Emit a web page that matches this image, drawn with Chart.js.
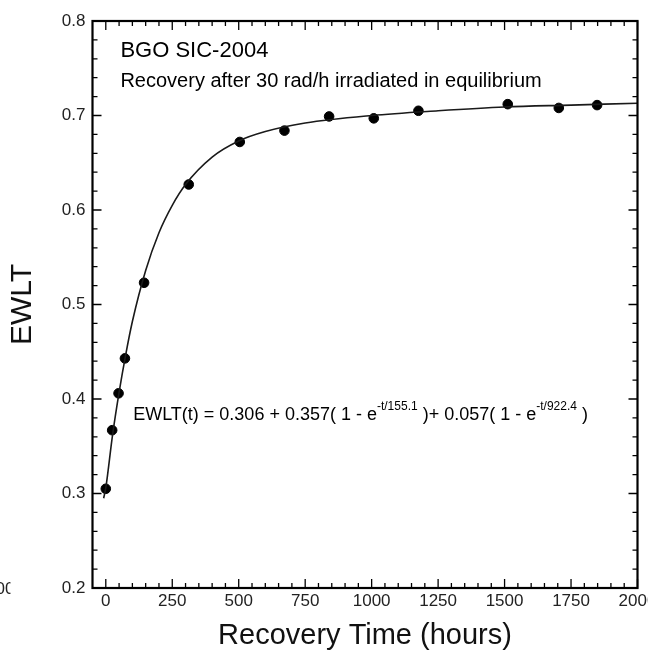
<!DOCTYPE html>
<html>
<head>
<meta charset="utf-8">
<script src="https://cdn.jsdelivr.net/npm/chart.js@4/dist/chart.umd.min.js"></script>
<style>
  html, body { margin: 0; padding: 0; background: #fff; overflow: hidden; }
  #wrap { width: 648px; height: 651px; overflow: hidden; position: relative; }
  canvas { display: block; }
</style>
</head>
<body>
<div id="wrap"><canvas id="ewltChart" width="680" height="651"></canvas></div>
<script>
// measured points: recovery time (hours) and EWLT
const pointTimes = [0, 24, 48, 72, 144, 312, 504, 672, 840, 1008, 1176, 1512, 1704, 1848];
const pointEwlt = [0.305, 0.367, 0.406, 0.443, 0.523, 0.627, 0.672, 0.684, 0.699, 0.697, 0.705, 0.712, 0.708, 0.711];

// fitted curve
const curveTimes = [-8, 0, 25, 50, 75, 100, 150, 200, 250, 300, 400, 500, 600, 750, 1000, 1250, 1500, 1750, 2000];
const curveEwlt = [0.295, 0.306, 0.361, 0.407, 0.447, 0.482, 0.536, 0.576, 0.605, 0.627, 0.656, 0.673, 0.683, 0.692, 0.700, 0.705, 0.709, 0.711, 0.713];

// axis ticks
const xTicks = [0, 250, 500, 750, 1000, 1250, 1500, 1750, 2000];
const xMinorTicks = [50, 100, 150, 200, 300, 350, 400, 450, 550, 600, 650, 700, 800, 850, 900, 950,
  1050, 1100, 1150, 1200, 1300, 1350, 1400, 1450, 1550, 1600, 1650, 1700, 1800, 1850, 1900, 1950];
const yTicks = [0.2, 0.3, 0.4, 0.5, 0.6, 0.7, 0.8];
const yMinorTicks = [0.22, 0.24, 0.26, 0.28, 0.32, 0.34, 0.36, 0.38, 0.42, 0.44, 0.46, 0.48,
  0.52, 0.54, 0.56, 0.58, 0.62, 0.64, 0.66, 0.68, 0.72, 0.74, 0.76, 0.78];

const titleText = "BGO SIC-2004";
const subtitleText = "Recovery after 30 rad/h irradiated in equilibrium";
const eqParts = [
  ["EWLT(t) = 0.306 + 0.357( 1 - e", false],
  ["-t/155.1", true],
  [" )+ 0.057( 1 - e", false],
  ["-t/922.4", true],
  [" )", false],
];

const FONT = "'Liberation Sans', Arial, sans-serif";

// frame with inward major / minor ticks on all four sides
const framePlugin = {
  id: "frame",
  afterDatasetsDraw(chart) {
    const ctx = chart.ctx;
    const a = chart.chartArea;
    const xs = chart.scales.x;
    const ys = chart.scales.y;
    ctx.save();
    ctx.strokeStyle = "#000";
    ctx.lineWidth = 1.3;
    function tickX(v, len) {
      const px = xs.getPixelForValue(v);
      ctx.beginPath();
      ctx.moveTo(px, a.bottom); ctx.lineTo(px, a.bottom - len);
      ctx.moveTo(px, a.top); ctx.lineTo(px, a.top + len);
      ctx.stroke();
    }
    function tickY(v, len) {
      const py = ys.getPixelForValue(v);
      ctx.beginPath();
      ctx.moveTo(a.left, py); ctx.lineTo(a.left + len, py);
      ctx.moveTo(a.right, py); ctx.lineTo(a.right - len, py);
      ctx.stroke();
    }
    xTicks.forEach((v) => tickX(v, 9));
    xMinorTicks.forEach((v) => tickX(v, 5));
    yTicks.forEach((v) => tickY(v, 9));
    yMinorTicks.forEach((v) => tickY(v, 5));
    ctx.lineWidth = 2.2;
    ctx.strokeRect(a.left, a.top, a.right - a.left, a.bottom - a.top);
    ctx.restore();
  },
};

// text labels inside the plot
const labelPlugin = {
  id: "labels",
  afterDraw(chart) {
    const ctx = chart.ctx;
    const xs = chart.scales.x;
    const ys = chart.scales.y;
    ctx.save();
    ctx.fillStyle = "#000";
    ctx.textAlign = "left";
    ctx.textBaseline = "alphabetic";
    ctx.font = "22px " + FONT;
    ctx.fillText(titleText, xs.getPixelForValue(55), ys.getPixelForValue(0.7616));
    ctx.font = "20px " + FONT;
    ctx.fillText(subtitleText, xs.getPixelForValue(55), ys.getPixelForValue(0.730));

    let x = xs.getPixelForValue(103);
    const base = ys.getPixelForValue(0.378);
    eqParts.forEach(([txt, sup]) => {
      ctx.font = (sup ? "12px " : "18px ") + FONT;
      ctx.fillText(txt, x, sup ? base - 10 : base);
      x += ctx.measureText(txt).width;
    });

    // clipped tick label of the neighbouring panel at the left edge
    ctx.beginPath();
    ctx.rect(0, 570, 10.5, 40);
    ctx.clip();
    ctx.font = "17px " + FONT;
    ctx.textAlign = "right";
    ctx.textBaseline = "middle";
    ctx.fillStyle = "#222";
    ctx.fillText("2000", 14.5, 589);
    ctx.restore();
  },
};

new Chart(document.getElementById("ewltChart"), {
  type: "scatter",
  data: {
    datasets: [
      {
        label: "fit",
        data: curveTimes.map((t, i) => ({ x: t, y: curveEwlt[i] })),
        showLine: true,
        borderColor: "#1a1a1a",
        borderWidth: 1.6,
        pointRadius: 0,
        cubicInterpolationMode: "monotone",
        fill: false,
      },
      {
        label: "EWLT",
        data: pointTimes.map((t, i) => ({ x: t, y: pointEwlt[i] })),
        backgroundColor: "#000",
        borderColor: "#000",
        pointRadius: 4.8,
      },
    ],
  },
  options: {
    responsive: false,
    animation: false,
    devicePixelRatio: 1,
    layout: { padding: { top: 21, right: 42.5, left: 0, bottom: 0 } },
    plugins: {
      legend: { display: false },
      tooltip: { enabled: false },
    },
    scales: {
      x: {
        type: "linear",
        min: -50,
        max: 2000,
        afterBuildTicks: (s) => { s.ticks = xTicks.map((v) => ({ value: v })); },
        afterFit: (s) => { s.height = 63; },
        grid: { display: false, drawTicks: false },
        border: { display: false },
        ticks: {
          color: "#222",
          font: { family: FONT, size: 17 },
          padding: 3,
          maxRotation: 0,
          autoSkip: false,
          callback: (v) => String(v),
        },
        title: {
          display: true,
          text: "Recovery Time (hours)",
          color: "#111",
          font: { family: FONT, size: 29 },
          padding: { top: 0, bottom: -2 },
        },
      },
      y: {
        min: 0.2,
        max: 0.8,
        afterBuildTicks: (s) => { s.ticks = yTicks.map((v) => ({ value: v })); },
        afterFit: (s) => { s.width = 92.5; },
        grid: { display: false, drawTicks: false },
        border: { display: false },
        ticks: {
          color: "#222",
          font: { family: FONT, size: 17 },
          padding: 7,
          callback: (v) => v.toFixed(1),
        },
        title: {
          display: true,
          text: "EWLT",
          color: "#111",
          font: { family: FONT, size: 30 },
          padding: { top: 5, bottom: 0 },
        },
      },
    },
  },
  plugins: [framePlugin, labelPlugin],
});
</script>
</body>
</html>
